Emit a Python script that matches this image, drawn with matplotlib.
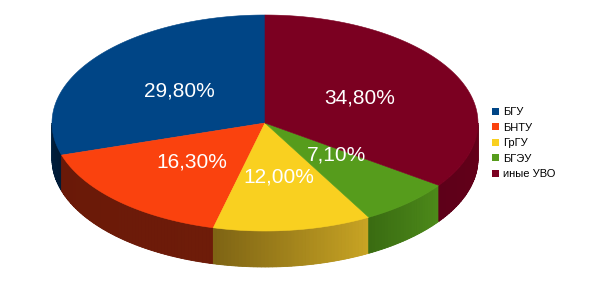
import numpy as np
import matplotlib
matplotlib.use("Agg")
import matplotlib.pyplot as plt
from matplotlib.patches import Polygon, Patch

plt.rcParams['font.family'] = ['Liberation Sans', 'DejaVu Sans']

# data
labels = ['БГУ', 'БНТУ', 'ГрГУ', 'БГЭУ', 'иные УВО']
shares = [29.8, 16.3, 12.0, 7.1, 34.8]
value_text = ['29,80%', '16,30%', '12,00%', '7,10%', '34,80%']

# styling
top_colors = ['#004586', '#fa420e', '#f9d020', '#569c1c', '#7b0021']
side_colors = [('#00203f', '#001a35'), ('#6a1908', '#6e1c09'),
               ('#7e6414', '#c8a424'), ('#3a6c12', '#4d8a1a'),
               ('#5e0019', '#640019')]
label_nudge = [0, 0, 0, -8, 0]

cx, cy = 265, 123      # centre of the top face, px
ra, rb = 213, 108      # semi axes
depth = 36


def pt(theta_deg, dy=0):
    t = np.radians(theta_deg)
    return cx + ra * np.cos(t), cy - rb * np.sin(t) + dy


def mix(c1, c2, f):
    a = np.array(matplotlib.colors.to_rgb(c1))
    b = np.array(matplotlib.colors.to_rgb(c2))
    return tuple(a + (b - a) * f)


fig = plt.figure(figsize=(5.95, 3.03), dpi=100)
ax = fig.add_axes([0, 0, 1, 1])
ax.set_xlim(0, 595)
ax.set_ylim(303, 0)
ax.axis('off')

fracs = np.array(shares) / sum(shares)
starts = 90 + 360 * np.concatenate([[0], np.cumsum(fracs)[:-1]])
ends = starts + 360 * fracs

# side walls (front half only)
for i in range(len(shares)):
    s, e = max(starts[i], 180), min(ends[i], 360)
    if e <= s:
        continue
    th = np.linspace(s, e, 200)
    outline = [pt(t) for t in th] + [pt(t, depth) for t in th[::-1]]
    ax.add_patch(Polygon(outline, closed=True,
                         facecolor=mix(side_colors[i][0], side_colors[i][1], 0.5),
                         edgecolor='none', zorder=1))
    n = max(int(e - s), 2)
    edges = np.linspace(s, e, n + 1)
    for k in range(n):
        seg = np.linspace(edges[k], edges[k + 1], 4)
        poly = [pt(t) for t in seg] + [pt(t, depth) for t in seg[::-1]]
        c = mix(side_colors[i][0], side_colors[i][1], k / max(n - 1, 1))
        ax.add_patch(Polygon(poly, closed=True, facecolor=c,
                             edgecolor=c, linewidth=0.6, zorder=1))

# top faces
for i in range(len(shares)):
    th = np.linspace(starts[i], ends[i], 200)
    poly = [(cx, cy)] + [pt(t) for t in th]
    ax.add_patch(Polygon(poly, closed=True, facecolor=top_colors[i],
                         edgecolor=top_colors[i], linewidth=0.4, zorder=2))

# value labels
for i in range(len(shares)):
    mid = np.radians((starts[i] + ends[i]) / 2)
    x = cx + 0.5 * ra * np.cos(mid)
    y = cy - 0.5 * rb * np.sin(mid) + label_nudge[i]
    ax.text(x, y, value_text[i], color='white', fontsize=15,
            ha='center', va='center', zorder=3)

handles = [Patch(facecolor=c, edgecolor='none') for c in top_colors]
fig.legend(handles, labels, loc='upper left',
           bbox_to_anchor=(0.818, 0.665), frameon=False, fontsize=8,
           handlelength=0.6, handleheight=0.6, handletextpad=0.4,
           labelspacing=0.5, borderpad=0)

fig.savefig('out.png', dpi=100, facecolor='white')
